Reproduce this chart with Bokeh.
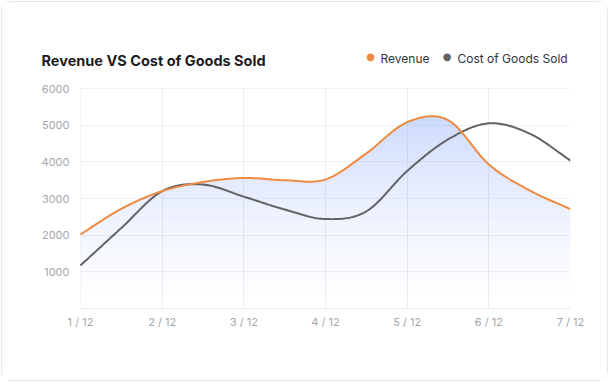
import numpy as np
from bokeh.plotting import figure
from bokeh.models import FixedTicker, Range1d, Label, BoxAnnotation
from bokeh.embed import file_html
from bokeh.resources import INLINE

# ---- data ----
months = [1, 1.5, 2, 2.5, 3, 3.5, 4, 4.5, 5, 5.5, 6, 6.5, 7]
revenue = [2020, 2720, 3200, 3450, 3560, 3500, 3520, 4230, 5080, 5140, 3930, 3220, 2710]
cost = [1175, 2195, 3200, 3380, 3050, 2700, 2440, 2650, 3750, 4610, 5050, 4770, 4035]
tick_months = [1, 2, 3, 4, 5, 6, 7]
tick_labels = ["1 / 12", "2 / 12", "3 / 12", "4 / 12", "5 / 12", "6 / 12", "7 / 12"]
y_ticks = [1000, 2000, 3000, 4000, 5000, 6000]
series_names = ["Revenue", "Cost of Goods Sold"]
chart_title = "Revenue VS Cost of Goods Sold"

FONT = "Inter"
ORANGE = "#EE8A42"
GREY = "#636366"
FILL = "#648cf5"


def smooth(xs, ys, n=24):
    """Catmull-Rom rendering of the data (for drawing smooth lines)."""
    xs = np.asarray(xs, float)
    ys = np.asarray(ys, float)
    px = np.concatenate([[2 * xs[0] - xs[1]], xs, [2 * xs[-1] - xs[-2]]])
    py = np.concatenate([[2 * ys[0] - ys[1]], ys, [2 * ys[-1] - ys[-2]]])
    out_x, out_y = [], []
    for i in range(1, len(px) - 2):
        t = np.linspace(0, 1, n, endpoint=False)
        for arr, out in ((px, out_x), (py, out_y)):
            p0, p1, p2, p3 = arr[i - 1], arr[i], arr[i + 1], arr[i + 2]
            m1 = (p2 - p0) / 2
            m2 = (p3 - p1) / 2
            h = ((2 * t**3 - 3 * t**2 + 1) * p1 + (t**3 - 2 * t**2 + t) * m1
                 + (-2 * t**3 + 3 * t**2) * p2 + (t**3 - t**2) * m2)
            out.extend(h)
    out_x.append(xs[-1])
    out_y.append(ys[-1])
    return np.array(out_x), np.array(out_y)


# ---- layout (pixels inside the figure) ----
W, H = 607, 380
FRAME_L, FRAME_R, FRAME_T, FRAME_B = 39, 568, 10, 306   # frame incl. header area
PLOT_L, PLOT_T = 78, 86                                  # where x=1 and y=6000 sit
x0, x1 = tick_months[0], tick_months[-1]
ppx = (FRAME_R - PLOT_L) / (x1 - x0)
ppy = (FRAME_B - PLOT_T) / y_ticks[-1]
x_start = x0 - (PLOT_L - FRAME_L) / ppx
y_end = y_ticks[-1] + (PLOT_T - FRAME_T) / ppy

p = figure(width=W, height=H, output_backend="svg", toolbar_location=None,
           x_range=Range1d(x_start, x1), y_range=Range1d(0, y_end),
           min_border_left=FRAME_L, min_border_right=W - FRAME_R,
           min_border_top=FRAME_T, min_border_bottom=H - FRAME_B)
p.outline_line_color = None
p.background_fill_color = "white"
p.border_fill_color = "white"
p.styles = {"border": "1px solid #e7e7f1", "border-radius": "10px",
            "box-sizing": "border-box", "margin": "1px"}

p.xaxis.ticker = FixedTicker(ticks=tick_months)
p.xaxis.major_label_overrides = {m: l for m, l in zip(tick_months, tick_labels)}
p.xaxis.bounds = (x0, x1)
p.yaxis.ticker = FixedTicker(ticks=y_ticks)
p.yaxis.fixed_location = x0
for ax in (p.xaxis[0], p.yaxis[0]):
    ax.major_tick_line_color = None
    ax.minor_tick_line_color = None
    ax.major_tick_out = 0
    ax.major_tick_in = 0
    ax.minor_tick_out = 0
    ax.minor_tick_in = 0
    ax.major_label_text_color = "#a6a6aa"
    ax.major_label_text_font = FONT
    ax.major_label_text_font_size = "11px"
p.xaxis.axis_line_color = "#ebebf0"
p.yaxis.axis_line_color = None
p.xaxis.major_label_standoff = 6
p.yaxis.major_label_standoff = 11
p.xgrid.ticker = FixedTicker(ticks=tick_months)
p.ygrid.ticker = FixedTicker(ticks=y_ticks)
p.xgrid.grid_line_color = "#ececf1"
p.ygrid.grid_line_color = "#f1f1f4"

# keep the grid inside the plotting box (mask the header / label margins)
p.add_layout(BoxAnnotation(right=x0, fill_color="white", fill_alpha=1,
                           line_color=None, level="underlay"))
p.add_layout(BoxAnnotation(bottom=y_ticks[-1] + 0.8 / ppy, fill_color="white", fill_alpha=1,
                           line_color=None, level="underlay"))

# gradient area under revenue: thin horizontal bands of rising opacity
rx, ry = smooth(months, revenue)
cx, cy = smooth(months, cost)
step = 50
for lv in np.arange(0, ry.max(), step):
    mid = lv + step / 2
    alpha = 0.30 * (mid / 5000.0) ** 1.45
    p.varea(x=rx, y1=np.minimum(ry, lv), y2=np.minimum(ry, lv + step),
            fill_color=FILL, fill_alpha=min(alpha, 0.34))

p.line(cx, cy, line_color=GREY, line_width=2)
p.line(rx, ry, line_color=ORANGE, line_width=2)

# ---- header: title and legend (screen units relative to the frame) ----
def up(y_px):
    return FRAME_B - y_px

p.add_layout(Label(x=0, y=up(57.5), x_units="screen", y_units="screen",
                   text=chart_title, text_font=FONT, text_font_size="14.5px",
                   text_font_style="bold", text_color="#1c1c1e",
                   text_baseline="alphabetic"))
for cxp, color in ((368, ORANGE), (444.7, GREY)):
    p.add_layout(Label(x=cxp - FRAME_L, y=up(54), x_units="screen", y_units="screen",
                       text="\u25cf", text_font="DejaVu Sans", text_font_size="10px",
                       text_color=color, text_align="center", text_baseline="middle"))
for lx, name in ((378, series_names[0]), (455, series_names[1])):
    p.add_layout(Label(x=lx - FRAME_L, y=up(56), x_units="screen", y_units="screen",
                       text=name, text_font=FONT, text_font_size="12px",
                       text_color="#333338", text_baseline="alphabetic"))

open("out.html", "w").write(file_html(p, INLINE))
